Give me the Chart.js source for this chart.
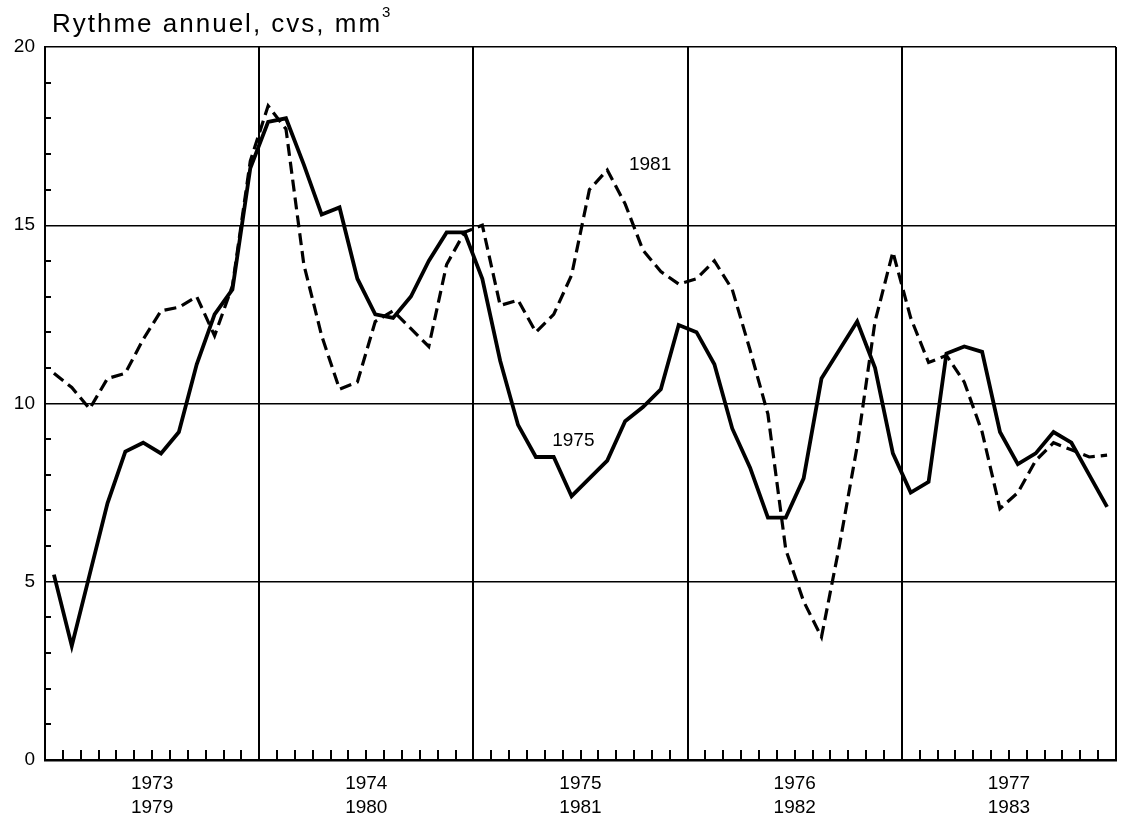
<!DOCTYPE html>
<html lang="fr">
<head>
<meta charset="utf-8">
<title>Rythme annuel, cvs, mm3</title>
<script src="https://cdn.jsdelivr.net/npm/chart.js@4.4.1/dist/chart.umd.min.js"></script>
<style>
  html, body { margin: 0; padding: 0; background: #fff; }
  #wrap { width: 1121px; height: 818px; }
</style>
</head>
<body>
<div id="wrap"><canvas id="chartRythme"></canvas></div>
<script>
// Données (rythme annuel, cvs, mm3), un point par mois
const anneesHaut = ['1973', '1974', '1975', '1976', '1977'];
const anneesBas = ['1979', '1980', '1981', '1982', '1983'];

// trait plein : 1973-1977
const serie1975 = [
    5.2, 3.2, 5.2, 7.2, 8.65, 8.9, 8.6, 9.2, 11.1, 12.5, 13.2, 16.6,
    17.9, 18.0, 16.7, 15.3, 15.5, 13.5, 12.5, 12.4, 13.0, 14.0, 14.8, 14.8,
    13.5, 11.2, 9.4, 8.5, 8.5, 7.4, 7.9, 8.4, 9.5, 9.9, 10.4, 12.2,
    12.0, 11.1, 9.3, 8.2, 6.8, 6.8, 7.9, 10.7, 11.5, 12.3, 11.0, 8.6,
    7.5, 7.8, 11.4, 11.6, 11.45, 9.2, 8.3, 8.6, 9.2, 8.9, 8.0, 7.1
];

// tirets : 1979-1983
const serie1981 = [
    10.85, 10.45, 9.85, 10.7, 10.85, 11.8, 12.6, 12.7, 13.0, 11.9, 13.3, 16.8,
    18.35, 17.7, 13.9, 11.9, 10.4, 10.6, 12.3, 12.6, 12.1, 11.6, 13.9, 14.8,
    15.0, 12.75, 12.9, 12.0, 12.5, 13.6, 16.0, 16.55, 15.6, 14.3, 13.7, 13.35,
    13.5, 14.0, 13.2, 11.5, 9.7, 5.9, 4.45, 3.45, 6.0, 8.8, 12.3, 14.25,
    12.4, 11.15, 11.35, 10.6, 9.2, 7.05, 7.5, 8.4, 8.9, 8.7, 8.5, 8.55
];

const yLabels = [0, 5, 10, 15, 20];

const noir = '#000';
const police = "'Liberation Sans', Arial, Helvetica, sans-serif";

const toPoints = serie => serie.map((v, i) => ({ x: i + 0.5, y: v }));

// petites graduations intérieures (mois / unités)
const graduations = {
    id: 'graduations',
    beforeDatasetsDraw(chart) {
        const { ctx, chartArea, scales } = chart;
        ctx.save();
        ctx.strokeStyle = noir;
        ctx.lineWidth = 2;
        ctx.beginPath();
        for (let m = 1; m < 60; m++) {
            if (m % 12 === 0) continue;
            const x = Math.round(scales.x.getPixelForValue(m));
            ctx.moveTo(x, chartArea.bottom);
            ctx.lineTo(x, chartArea.bottom - 10);
        }
        for (let v = 1; v < 20; v++) {
            if (v % 5 === 0) continue;
            const y = Math.round(scales.y.getPixelForValue(v));
            ctx.moveTo(chartArea.left, y);
            ctx.lineTo(chartArea.left + 6, y);
        }
        ctx.stroke();
        ctx.restore();
    }
};

// titre et repères des courbes
const textes = {
    id: 'textes',
    afterDraw(chart) {
        const { ctx, scales } = chart;
        ctx.save();
        ctx.fillStyle = noir;
        ctx.font = '26px ' + police;
        ctx.letterSpacing = '2px';
        ctx.textAlign = 'left';
        ctx.textBaseline = 'alphabetic';
        const titre = 'Rythme annuel, cvs, mm';
        ctx.fillText(titre, 52, 32);
        const w = ctx.measureText(titre).width;
        ctx.letterSpacing = '0px';
        ctx.font = '15px ' + police;
        ctx.fillText('3', 52 + w, 17);
        ctx.font = '19px ' + police;
        ctx.textAlign = 'center';
        ctx.textBaseline = 'middle';
        ctx.fillText('1981', scales.x.getPixelForValue(33.9), scales.y.getPixelForValue(16.7));
        ctx.fillText('1975', scales.x.getPixelForValue(29.6), scales.y.getPixelForValue(8.95));
        ctx.restore();
    }
};

const ctxRythme = document.getElementById('chartRythme').getContext('2d');
new Chart(ctxRythme, {
    type: 'line',
    data: {
        datasets: [
            {
                label: '1973-1977',
                data: toPoints(serie1975),
                borderColor: noir,
                borderWidth: 3.8,
                borderJoinStyle: 'miter',
                pointRadius: 0,
                tension: 0
            },
            {
                label: '1979-1983',
                data: toPoints(serie1981),
                borderColor: noir,
                borderWidth: 3.2,
                borderDash: [12, 6],
                pointRadius: 0,
                tension: 0
            }
        ]
    },
    options: {
        responsive: true,
        maintainAspectRatio: false,
        animation: false,
        layout: { padding: { top: 47, right: 5, left: 0, bottom: 0 } },
        plugins: {
            legend: { display: false },
            tooltip: { enabled: false }
        },
        scales: {
            x: {
                type: 'linear',
                min: 0,
                max: 60,
                afterFit: s => { s.height = 58; s.paddingLeft = 0; s.paddingRight = 0; },
                ticks: {
                    stepSize: 1,
                    autoSkip: false,
                    maxRotation: 0,
                    minRotation: 0,
                    padding: 12,
                    color: noir,
                    font: { family: police, size: 19, lineHeight: 1.25 },
                    callback: v => v % 12 === 6 ? [anneesHaut[(v - 6) / 12], anneesBas[(v - 6) / 12]] : ''
                },
                grid: {
                    color: c => (c.tick && c.tick.value % 12 === 0) ? noir : 'rgba(0,0,0,0)',
                    lineWidth: 2,
                    drawTicks: false
                },
                border: { color: noir, width: 2.5 }
            },
            y: {
                min: 0,
                max: 20,
                afterFit: s => { s.width = 45; },
                ticks: {
                    stepSize: 1,
                    autoSkip: false,
                    padding: 10,
                    color: noir,
                    font: { family: police, size: 19 },
                    callback: v => yLabels.includes(v) ? String(v) : ''
                },
                grid: {
                    color: c => (c.tick && c.tick.value % 5 === 0) ? noir : 'rgba(0,0,0,0)',
                    lineWidth: 1.5,
                    drawTicks: false
                },
                border: { color: noir, width: 2 }
            }
        }
    },
    plugins: [graduations, textes]
});
</script>
</body>
</html>
